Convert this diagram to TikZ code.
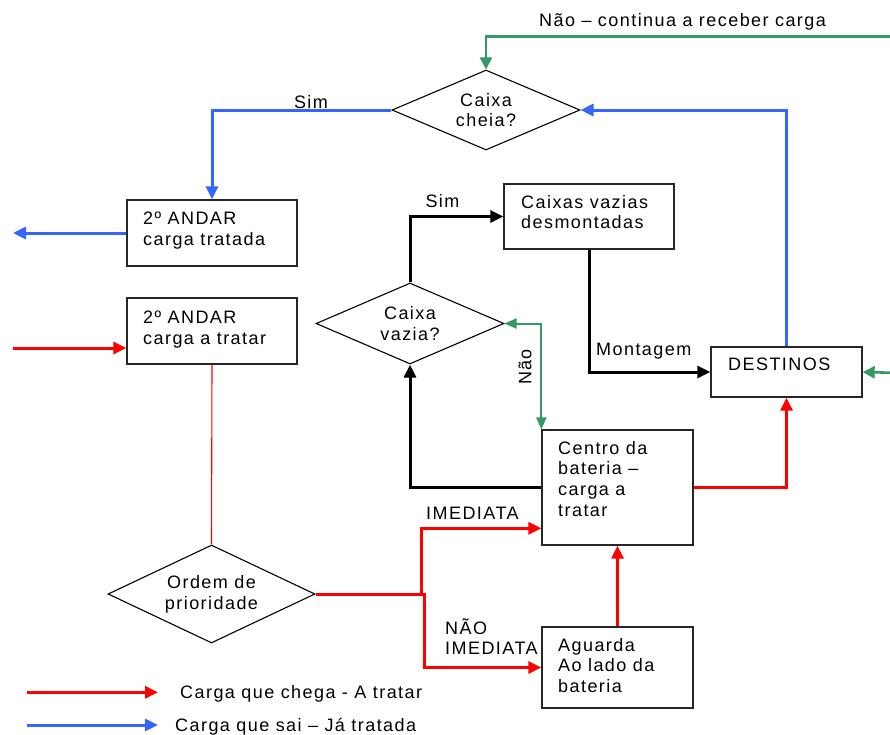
\documentclass[tikz,border=0pt]{standalone}
\usepackage{fontspec}
\setmainfont{Liberation Sans}[LetterSpace=8]
\usetikzlibrary{shapes.geometric,arrows.meta}
\definecolor{cred}{HTML}{FF0000}
\definecolor{cblue}{HTML}{3366FF}
\definecolor{cgreen}{HTML}{339966}
\begin{document}
\begin{tikzpicture}[x=1pt,y=-1pt,
  box/.style={draw=black!85, line width=1.3pt, inner sep=0pt, rectangle},
  dia/.style={diamond, draw=black, line width=1.1pt, inner sep=0pt, font=\fontsize{18}{20.7}\selectfont, align=center},
  txt/.style={inner sep=0pt, font=\fontsize{18}{20.7}\selectfont, align=left},
  arr/.style={-{Triangle[length=13pt,width=12pt]}},
  garr/.style={-{Triangle[length=12pt,width=12pt]}},
  redl/.style={draw=cred, line width=3pt},
  thinred/.style={draw=cred, line width=1.1pt},
  bluel/.style={draw=cblue, line width=3pt},
  greenl/.style={draw=cgreen, line width=2.6pt},
  greenthin/.style={draw=cgreen, line width=2pt},
  blackl/.style={draw=black, line width=3pt}
]
\useasboundingbox (0,0) rectangle (890,734);

% boxes
\node[box, minimum width=170pt, minimum height=66pt] (tratada) at (212,233) {};
\node[box, minimum width=170pt, minimum height=66pt] (atratar) at (212,331) {};
\node[box, minimum width=170pt, minimum height=65pt] (vazias) at (589,216.5) {};
\node[box, minimum width=151pt, minimum height=50pt] (destinos) at (786.5,372) {};
\node[box, minimum width=151pt, minimum height=115pt] (centro) at (617.5,487.5) {};
\node[box, minimum width=151pt, minimum height=81pt] (aguarda) at (617.5,667.5) {};

% diamonds
\node[dia, aspect=2.35, minimum width=188pt, minimum height=80pt] (cheia) at (486,110) {Caixa\\cheia?};
\node[dia, aspect=2.32, minimum width=188pt, minimum height=81pt] (vazia) at (410,323.5) {Caixa\\vazia?};
\node[dia, aspect=2.11, minimum width=207pt, minimum height=98pt] (ordem) at (211.5,594) {Ordem de\\prioridade};

% box texts
\node[txt, anchor=north west] (tratadaT) at (143,212) {2º ANDAR\\carga tratada};
\node[txt, anchor=north west] (atratarT) at (143,311) {2º ANDAR\\carga a tratar};
\node[txt, anchor=north west] (vaziasT) at (521,195) {Caixas vazias\\desmontadas};
\node[txt, anchor=north west] (destinosT) at (728,358) {DESTINOS};
\node[txt, anchor=north west] (centroT) at (558,441) {Centro da\\bateria –\\carga a\\tratar};
\node[txt, anchor=north west] (aguardaT) at (558,638) {Aguarda\\Ao lado da\\bateria};

% connector labels
\node[txt, anchor=base west] (lnao) at (539,26.5) {Não – continua a receber carga};
\node[txt] (lsim1) at (311,102) {Sim};
\node[txt] (lsim2) at (442.5,201) {Sim};
\node[txt, anchor=base west] (lmont) at (596,355) {Montagem};
\node[txt, rotate=90] (lnao2) at (525,367) {Não};
\node[txt, anchor=base west] (limed) at (426,519.3) {IMEDIATA};
\node[txt, anchor=south west] (lnimed) at (445,655) {NÃO\\IMEDIATA};

% blue connectors
\draw[bluel, arr] (destinos.north) |- (cheia.east);
\draw[bluel, arr] (cheia.west) -| (tratada.north);
\coordinate (bout) at (13,233);
\draw[bluel, arr] (tratada.west) -- (bout);

% green connectors
\coordinate (gtop) at (890,36.3);
\draw[greenl, garr] (gtop) -| (cheia.north);
\coordinate (gin) at (890,372.7);
\draw[greenl, garr] (gin) -- (destinos.east);
\draw[greenthin, {Triangle[length=12pt,width=10pt]}-{Triangle[length=12pt,width=10pt]}] (vazia.east) -| (centro.north west);

% red connectors
\coordinate (rin) at (13,348);
\draw[redl, arr] (rin) -- (atratar.west |- rin);
\draw[thinred] (atratar.south) -- (ordem.north);
\coordinate (jA) at (421,528.3);
\coordinate (jB) at (424,667.5);
\draw[redl, arr] (ordem.east) -| (jA) -- (centro.west |- jA);
\draw[redl, arr] (ordem.east) -| (jB) -- (aguarda.west);
\draw[redl, arr] (aguarda.north) -- (centro.south);
\draw[redl, arr] (centro.east) -| (destinos.south);

% black connectors
\draw[blackl, arr] (centro.west) -| (vazia.south);
\draw[blackl, arr] (vazia.north) |- (vazias.west);
\draw[blackl, arr] (vazias.south) |- (destinos.west);

% legend
\coordinate (l1a) at (27,692.3);
\coordinate (l1b) at (158,692.3);
\draw[redl, arr] (l1a) -- (l1b);
\coordinate (l2a) at (27,725);
\coordinate (l2b) at (158,725);
\draw[bluel, arr] (l2a) -- (l2b);
\node[txt, anchor=base west] (leg1) at (180,698.3) {Carga que chega - A tratar};
\node[txt, anchor=base west] (leg2) at (175,731.5) {Carga que sai – Já tratada};
\end{tikzpicture}
\end{document}
